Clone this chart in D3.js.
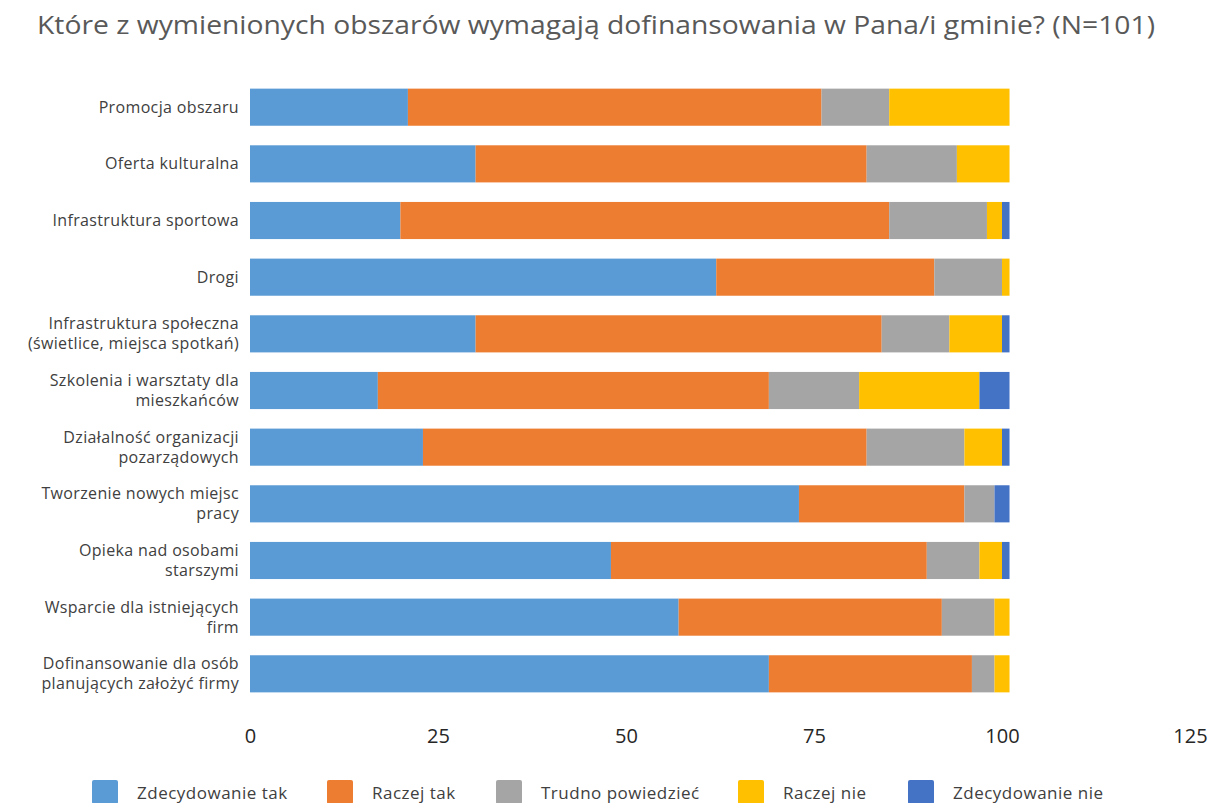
<!DOCTYPE html>
<html>
<head>
<meta charset="utf-8">
<script src="https://cdn.jsdelivr.net/npm/d3@7/dist/d3.min.js"></script>
<style>
  body { margin: 0; background: #fff; }
  text { font-family: "Open Sans", "Noto Sans", sans-serif; }
</style>
</head>
<body>
<svg id="chart" width="1213" height="803"></svg>
<script>
// categories, top to bottom (each label may span two lines)
var categories = [
    ["Promocja obszaru"],
    ["Oferta kulturalna"],
    ["Infrastruktura sportowa"],
    ["Drogi"],
    ["Infrastruktura społeczna", "(świetlice, miejsca spotkań)"],
    ["Szkolenia i warsztaty dla", "mieszkańców"],
    ["Działalność organizacji", "pozarządowych"],
    ["Tworzenie nowych miejsc", "pracy"],
    ["Opieka nad osobami", "starszymi"],
    ["Wsparcie dla istniejących", "firm"],
    ["Dofinansowanie dla osób", "planujących założyć firmy"]
];

var seriesNames = ["Zdecydowanie tak", "Raczej tak", "Trudno powiedzieć", "Raczej nie", "Zdecydowanie nie"];

// counts (N=101)
var zdecydowanieTak = [21, 30, 20, 62, 30, 17, 23, 73, 48, 57, 69];
var raczejTak       = [55, 52, 65, 29, 54, 52, 59, 22, 42, 35, 27];
var trudnoPowiedziec = [9, 12, 13,  9,  9, 12, 13,  4,  7,  7,  3];
var raczejNie       = [16,  7,  2,  1,  7, 16,  5,  0,  3,  2,  2];
var zdecydowanieNie = [ 0,  0,  1,  0,  1,  4,  1,  2,  1,  0,  0];

var xTicks = [0, 25, 50, 75, 100, 125];

var colors = ["#5B9BD5", "#ED7D31", "#A5A5A5", "#FFC000", "#4472C4"];

var svg = d3.select("#chart");

// title
svg.append("text")
    .attr("x", 37)
    .attr("y", 34)
    .attr("fill", "#595959")
    .style("font-size", "26px")
    .attr("textLength", 1118)
    .attr("lengthAdjust", "spacingAndGlyphs")
    .text("Które z wymienionych obszarów wymagają dofinansowania w Pana/i gminie? (N=101)");

var x = d3.scaleLinear().domain([0, 125]).range([250, 1190]);
var y = d3.scaleBand()
    .domain(d3.range(categories.length))
    .range([79, 702])
    .paddingInner(0.345)
    .paddingOuter(0.17);

// build rows for stacking
var rows = categories.map(function(c, i) {
    return {
        i: i,
        s0: zdecydowanieTak[i],
        s1: raczejTak[i],
        s2: trudnoPowiedziec[i],
        s3: raczejNie[i],
        s4: zdecydowanieNie[i]
    };
});
var stack = d3.stack().keys(["s0", "s1", "s2", "s3", "s4"]);
var layers = stack(rows);

var g = svg.append("g");
g.selectAll("g.layer")
    .data(layers)
    .enter()
    .append("g")
    .attr("class", "layer")
    .attr("fill", function(d, k) { return colors[k]; })
    .selectAll("rect")
    .data(function(d) { return d; })
    .enter()
    .append("rect")
    .attr("x", function(d) { return x(d[0]); })
    .attr("y", function(d) { return y(d.data.i); })
    .attr("width", function(d) { return x(d[1]) - x(d[0]); })
    .attr("height", y.bandwidth());

// category labels, one text element per line
var labels = svg.append("g");
categories.forEach(function(lines, i) {
    var cy = y(i) + y.bandwidth() / 2;
    var lh = 20;
    var start = cy - (lines.length - 1) * lh / 2 + 5.5;
    lines.forEach(function(line, k) {
        labels.append("text")
            .attr("x", 239)
            .attr("y", start + k * lh)
            .attr("text-anchor", "end")
            .attr("fill", "#404040")
            .style("font-size", "16px")
            .style("letter-spacing", "0.35px")
            .text(line);
    });
});

// x axis (labels only)
var xAxis = d3.axisBottom(x).tickValues(xTicks).tickSize(0).tickPadding(0);
var axisG = svg.append("g")
    .attr("transform", "translate(0,728)")
    .call(xAxis);
axisG.select(".domain").remove();
axisG.selectAll("text")
    .attr("fill", "#262626")
    .style("font-size", "20px")
    .attr("dy", "0.75em");

// legend
var legendX = [92, 327, 496, 738, 908];
var legend = svg.append("g");
seriesNames.forEach(function(name, k) {
    legend.append("rect")
        .attr("x", legendX[k])
        .attr("y", 780)
        .attr("width", 26)
        .attr("height", 24)
        .attr("rx", 2)
        .attr("fill", colors[k]);
    legend.append("text")
        .attr("x", legendX[k] + 45)
        .attr("y", 799)
        .attr("fill", "#404040")
        .style("font-size", "17px")
        .style("letter-spacing", "0.5px")
        .text(name);
});
</script>
</body>
</html>
